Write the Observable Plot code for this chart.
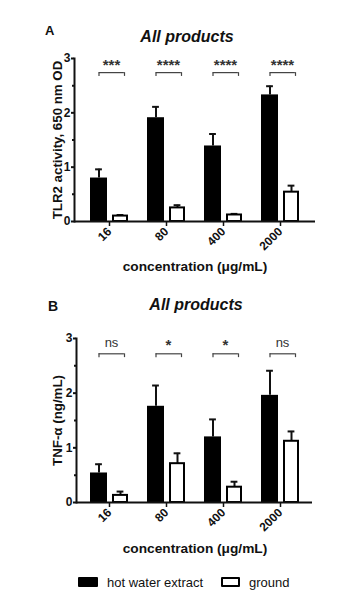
<!DOCTYPE html>
<html><head><meta charset="utf-8">
<script src="https://cdn.jsdelivr.net/npm/d3@7"></script>
<script src="https://cdn.jsdelivr.net/npm/@observablehq/plot@0.6"></script>
<style>
body{margin:0;background:#fff;}
#wrap{position:relative;width:351px;height:601px;overflow:hidden;font-family:"Liberation Sans",Arial,sans-serif;color:#111;}
.abs{position:absolute;white-space:nowrap;line-height:1em;}
.title{font-weight:bold;font-style:italic;font-size:16px;transform:translateX(-50%);}
.letter{font-weight:bold;}
.xlab{font-weight:bold;font-size:13.7px;transform:translateX(-50%);}
.leg{font-size:13px;}
.sw{position:absolute;box-sizing:border-box;border-radius:1px;}
svg{position:absolute;left:0;}
</style></head>
<body><div id="wrap">
<div class="abs letter" style="left:45px;top:24px;font-size:13px;">A</div>
<div class="abs title" style="left:187px;top:29px;">All products</div>
<div class="abs xlab" style="left:195px;top:260px;">concentration (μg/mL)</div>
<div class="abs letter" style="left:48px;top:299px;font-size:14px;">B</div>
<div class="abs title" style="left:196px;top:297px;">All products</div>
<div class="abs xlab" style="left:195px;top:542px;">concentration (μg/mL)</div>
<div class="sw" style="left:78px;top:577px;width:20px;height:10px;background:#000;"></div>
<div class="abs leg" style="left:107px;top:575.5px;">hot water extract</div>
<div class="sw" style="left:221px;top:577px;width:19px;height:10px;border:2px solid #000;background:#fff;"></div>
<div class="abs leg" style="left:249px;top:575.5px;">ground</div>
</div>
<script>
// ---- data ----
const concentrations = ["16", "80", "400", "2000"];
const groups = ["hot water extract", "ground"];

// Panel A: TLR2 activity (650 nm OD), mean and SEM
const tlr2Hot = [0.80, 1.91, 1.39, 2.33];
const tlr2HotSem = [0.16, 0.20, 0.22, 0.16];
const tlr2Ground = [0.10, 0.25, 0.12, 0.54];
const tlr2GroundSem = [0.02, 0.05, 0.02, 0.12];
const tlr2Sig = ["***", "****", "****", "****"];

// Panel B: TNF-alpha (ng/mL), mean and SEM
const tnfHot = [0.54, 1.76, 1.20, 1.96];
const tnfHotSem = [0.16, 0.38, 0.32, 0.45];
const tnfGround = [0.13, 0.71, 0.28, 1.12];
const tnfGroundSem = [0.07, 0.19, 0.10, 0.18];
const tnfSig = ["ns", "*", "*", "ns"];

const yMajorTicks = [0, 1, 2, 3];
const yMinorTicks = [0.5, 1.5, 2.5];

function rows(hot, hotSem, gr, grSem) {
  return concentrations.flatMap((c, i) => [
    {conc: c, group: groups[0], mean: hot[i], sem: hotSem[i]},
    {conc: c, group: groups[1], mean: gr[i], sem: grSem[i]}
  ]);
}

function panel({data, sig, ylabel, height, marginLeft, marginRight, marginTop, marginBottom, paddingOuter, bracketY, sigY, labelOffset}) {
  const hot = data.filter(d => d.group === groups[0]);
  const gr = data.filter(d => d.group === groups[1]);
  const sigRows = concentrations.map((c, i) => ({conc: c, text: sig[i]}));
  const nsRows = sigRows.filter(d => d.text === "ns");
  const starRows = sigRows.filter(d => d.text !== "ns");
  const hw = 23.1; // half band width
  const bx = -10.5, wx = 11; // bar centre offsets
  const capHalf = 3.5;
  const brL = -10.5, brR = 15;
  return Plot.plot({
    width: 351, height, marginLeft, marginRight, marginTop, marginBottom,
    x: {type: "band", domain: concentrations, paddingInner: 0.2, paddingOuter, label: null},
    y: {domain: [0, 3], label: null},
    style: {fontFamily: "'Liberation Sans', Arial, sans-serif", fontWeight: "bold", fontSize: "12px", color: "#111", background: "transparent", overflow: "visible"},
    marks: [
      // error bars (upward only)
      Plot.ruleX(hot, {x: "conc", y1: "mean", y2: d => d.mean + d.sem, dx: bx, strokeWidth: 2, stroke: "#111"}),
      Plot.tickY(hot, {x: "conc", y: d => d.mean + d.sem, dx: bx, insetLeft: hw - capHalf, insetRight: hw - capHalf, strokeWidth: 2, stroke: "#111"}),
      Plot.ruleX(gr, {x: "conc", y1: "mean", y2: d => d.mean + d.sem, dx: wx, strokeWidth: 2, stroke: "#111"}),
      Plot.tickY(gr, {x: "conc", y: d => d.mean + d.sem, dx: wx, insetLeft: hw - capHalf, insetRight: hw - capHalf, strokeWidth: 2, stroke: "#111"}),
      // bars
      Plot.barY(hot, {x: "conc", y: "mean", fill: "#000", insetLeft: 4, insetRight: 25}),
      Plot.barY(gr, {x: "conc", y: "mean", fill: "#fff", stroke: "#000", strokeWidth: 2, insetLeft: 27, insetRight: 5}),
      // significance brackets
      Plot.tickY(sigRows, {x: "conc", y: bracketY, insetLeft: hw + brL, insetRight: hw - brR, stroke: "#444", strokeWidth: 1.2}),
      Plot.ruleX(sigRows, {x: "conc", y1: bracketY - 0.07, y2: bracketY, dx: brL, stroke: "#444", strokeWidth: 1.2}),
      Plot.ruleX(sigRows, {x: "conc", y1: bracketY - 0.07, y2: bracketY, dx: brR, stroke: "#444", strokeWidth: 1.2}),
      Plot.text(starRows, {x: "conc", y: sigY, text: "text", dx: 2, fontSize: 15, fontWeight: "bold", fill: "#333"}),
      Plot.text(nsRows, {x: "conc", y: sigY + 0.04, text: "text", dx: 2, fontSize: 13, fontWeight: "normal", fill: "#333"}),
      // axes
      Plot.ruleY([0], {strokeWidth: 2, stroke: "#111"}),
      Plot.frame({anchor: "left", strokeWidth: 2, stroke: "#111"}),
      Plot.axisY({ticks: yMajorTicks, tickSize: 3, tickPadding: 1, strokeWidth: 2, fontSize: 12, tickFormat: d3.format("d"), label: null}),
      Plot.axisY({ticks: [], label: ylabel, labelAnchor: "center", labelArrow: "none", labelOffset, fontSize: 13.3, fontWeight: "bold"}),
      Plot.axisY({ticks: yMinorTicks, tickSize: 2, strokeWidth: 2, tickFormat: () => "", label: null}),
      Plot.axisX({tickRotate: -45, tickSize: 5, tickPadding: 3, strokeWidth: 1.5, fontSize: 12, label: null})
    ]
  });
}

const wrap = document.getElementById("wrap");
const svgA = panel({
  data: rows(tlr2Hot, tlr2HotSem, tlr2Ground, tlr2GroundSem), sig: tlr2Sig,
  ylabel: "TLR2 activity, 650 nm OD", height: 280,
  marginLeft: 74, marginRight: 36, marginTop: 58, marginBottom: 59, paddingOuter: 0.19,
  bracketY: 2.74, sigY: 2.87, labelOffset: 22
});
svgA.style.top = "0px";
wrap.appendChild(svgA);

const svgB = panel({
  data: rows(tnfHot, tnfHotSem, tnfGround, tnfGroundSem), sig: tnfSig,
  ylabel: "TNF-α (ng/mL)", height: 270,
  marginLeft: 76, marginRight: 39, marginTop: 58, marginBottom: 48, paddingOuter: 0.135,
  bracketY: 2.72, sigY: 2.88, labelOffset: 24
});
svgB.style.top = "280px";
wrap.appendChild(svgB);
</script>
</body></html>
